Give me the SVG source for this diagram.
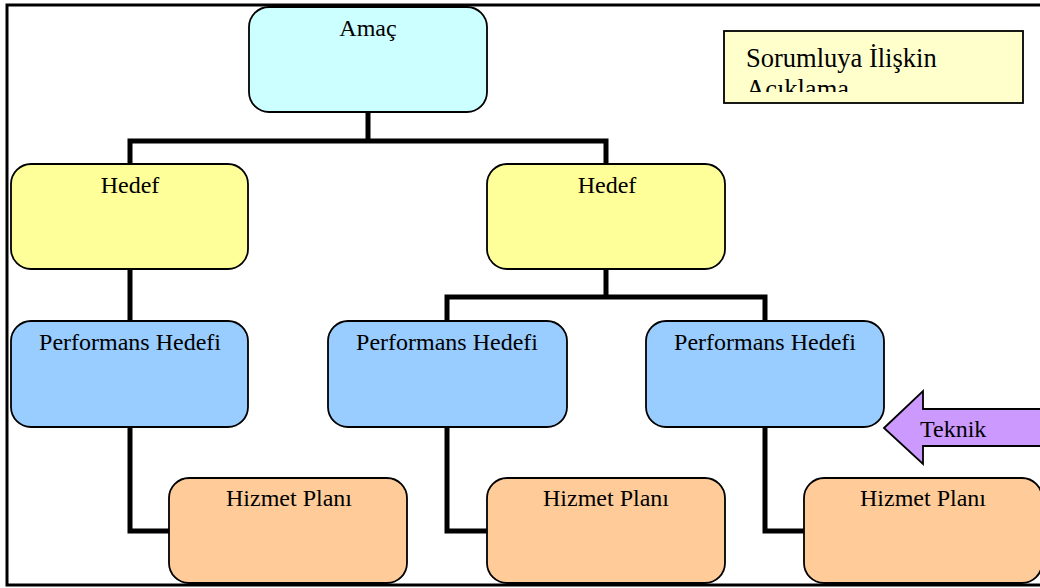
<svg xmlns="http://www.w3.org/2000/svg" width="1040" height="588" viewBox="0 0 1040 588">
<style>
.box{stroke:#000;stroke-width:1.8}
.amac{fill:#CCFFFF}
.hedef{fill:#FFFF99}
.perf{fill:#99CCFF}
.plan{fill:#FFCC99}
.t{font-family:"Liberation Serif","Times New Roman",serif;font-size:24px;fill:#000;text-anchor:middle}
.conn{fill:none;stroke:#000;stroke-width:5;stroke-linejoin:miter}
</style>
<defs>
<clipPath id="noteClip"><rect x="725" y="32" width="297" height="60"/></clipPath>
</defs>
<rect x="0" y="0" width="1040" height="588" fill="#fff"/>
<rect x="7" y="5" width="1040" height="580" fill="none" stroke="#000" stroke-width="3"/>
<g id="connectors">
<path class="conn" d="M368,112 V141 M130,164 V141 H606 V164"/>
<path class="conn" d="M130,269 V322"/>
<path class="conn" d="M606,269 V297 M447,322 V297 H765 V322"/>
<path class="conn" d="M130,427 V531 H170"/>
<path class="conn" d="M447,427 V531 H488"/>
<path class="conn" d="M765,427 V531 H805"/>
</g>
<g id="amac"><rect class="box amac" x="249" y="7" width="238" height="105" rx="20"/><text class="t" x="368" y="36">Amaç</text></g>
<g id="note"><rect x="724" y="31" width="299" height="72" fill="#FFFFCC" stroke="#000" stroke-width="1.8"/>
<g clip-path="url(#noteClip)"><text font-family="'Liberation Serif','Times New Roman',serif" font-size="26.5" x="746" y="67">Sorumluya İlişkin</text><text font-family="'Liberation Serif','Times New Roman',serif" font-size="26.5" x="746" y="98">Açıklama</text></g></g>
<g id="hedef1"><rect class="box hedef" x="11" y="164" width="237" height="105" rx="20"/><text class="t" x="130" y="193">Hedef</text></g>
<g id="hedef2"><rect class="box hedef" x="487" y="164" width="238" height="105" rx="20"/><text class="t" x="607" y="193">Hedef</text></g>
<g id="perf1"><rect class="box perf" x="11" y="321" width="237" height="106" rx="20"/><text class="t" x="130" y="350">Performans Hedefi</text></g>
<g id="perf2"><rect class="box perf" x="328" y="321" width="239" height="106" rx="20"/><text class="t" x="447" y="350">Performans Hedefi</text></g>
<g id="perf3"><rect class="box perf" x="646" y="321" width="238" height="106" rx="20"/><text class="t" x="765" y="350">Performans Hedefi</text></g>
<g id="plan1"><rect class="box plan" x="169" y="478" width="238" height="105" rx="20"/><text class="t" x="289" y="506">Hizmet Planı</text></g>
<g id="plan2"><rect class="box plan" x="487" y="478" width="238" height="105" rx="20"/><text class="t" x="606" y="506">Hizmet Planı</text></g>
<g id="plan3"><rect class="box plan" x="804" y="478" width="238" height="105" rx="20"/><text class="t" x="923" y="506">Hizmet Planı</text></g>
<g id="teknik"><path d="M884,428 L923,391 V409 H1045 V446 H923 V464 Z" fill="#CC99FF" stroke="#000" stroke-width="1.8"/><text font-family="'Liberation Serif','Times New Roman',serif" font-size="24" x="920" y="437">Teknik</text></g>
</svg>
